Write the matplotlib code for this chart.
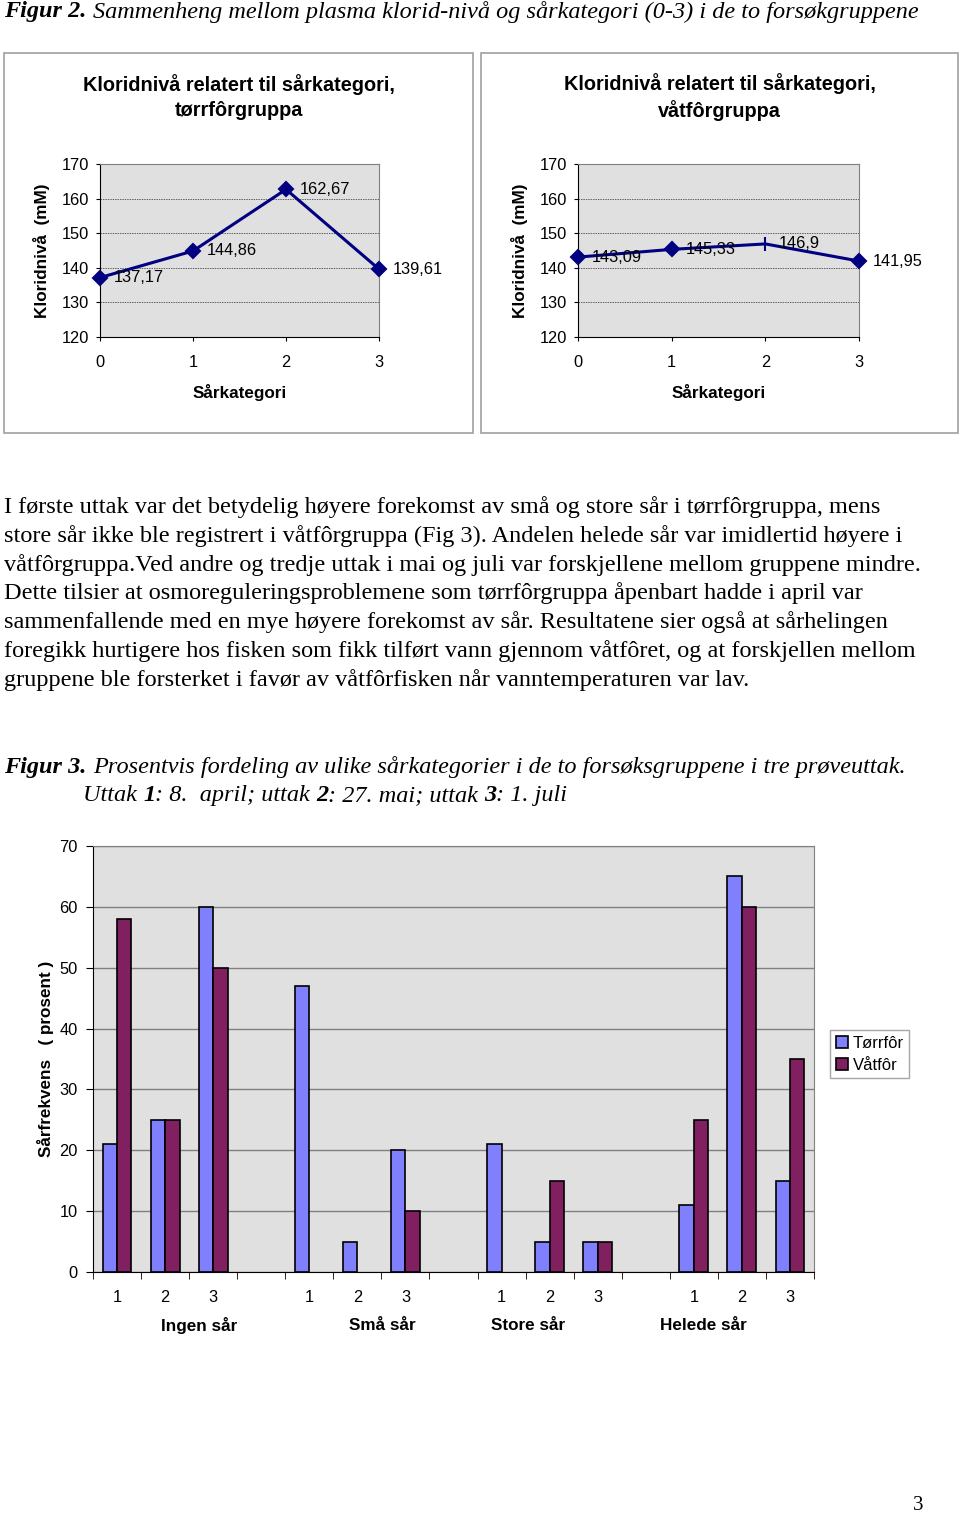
import matplotlib
matplotlib.use("Agg")
import matplotlib.pyplot as plt
from matplotlib.patches import Rectangle
import numpy as np

# --- data ---
kategori = [0, 1, 2, 3]
klorid_torr = [137.17, 144.86, 162.67, 139.61]
klorid_vat = [143.09, 145.33, 146.9, 141.95]

grupper = ["Ingen sår", "Små sår", "Store sår", "Helede sår"]
uttak = ["1", "2", "3"]
torrfor = [[21, 25, 60], [47, 5, 20], [21, 5, 5], [11, 65, 15]]
vatfor = [[58, 25, 50], [0, 0, 10], [0, 15, 5], [25, 60, 35]]

avsnitt = [
    "I første uttak var det betydelig høyere forekomst av små og store sår i tørrfôrgruppa, mens",
    "store sår ikke ble registrert i våtfôrgruppa (Fig 3). Andelen helede sår var imidlertid høyere i",
    "våtfôrgruppa.Ved andre og tredje uttak i mai og juli var forskjellene mellom gruppene mindre.",
    "Dette tilsier at osmoreguleringsproblemene som tørrfôrgruppa åpenbart hadde i april var",
    "sammenfallende med en mye høyere forekomst av sår. Resultatene sier også at sårhelingen",
    "foregikk hurtigere hos fisken som fikk tilført vann gjennom våtfôret, og at forskjellen mellom",
    "gruppene ble forsterket i favør av våtfôrfisken når vanntemperaturen var lav.",
]

W, H = 960, 1514
fig = plt.figure(figsize=(W / 100, H / 100), dpi=100)
plt.rcParams["font.family"] = ["Liberation Sans", "DejaVu Sans"]
SERIF = ["Liberation Serif", "DejaVu Serif"]


def fx(x):
    return x / W


def fy(y):
    return 1 - y / H


def px_axes(x0, y0, x1, y1):
    return fig.add_axes([fx(x0), fy(y1), (x1 - x0) / W, (y1 - y0) / H])


def ftext(x, y, s, **kw):
    return fig.text(fx(x), fy(y), s, **kw)


# --- Figur 2 caption ---
ftext(4, 12, "Figur 2.", family=SERIF, style="italic", weight="bold", fontsize=17.5, va="center")
ftext(93, 12, "Sammenheng mellom plasma klorid-nivå og sårkategori (0-3) i de to forsøkgruppene",
      family=SERIF, style="italic", fontsize=17.5, va="center")


def linjefigur(box, area, verdier, tittel, markers):
    bx0, by0, bx1, by1 = box
    fig.add_artist(Rectangle((fx(bx0), fy(by1)), (bx1 - bx0) / W, (by1 - by0) / H,
                             transform=fig.transFigure, fill=False, edgecolor="#a0a0a0", lw=1.2))
    cx = (bx0 + bx1) / 2
    ftext(cx, 97, tittel, ha="center", va="center", weight="bold", fontsize=14.3, linespacing=1.35)
    ax = px_axes(*area)
    ax.set_facecolor("#e0e0e0")
    ax.set_xlim(0, 3)
    ax.set_ylim(120, 170)
    ax.set_yticks([120, 130, 140, 150, 160, 170])
    ax.set_xticks(kategori)
    ax.grid(axis="y", color="#606060", ls=(0, (1.5, 1)), lw=0.7)
    ax.set_axisbelow(True)
    for s in ["top", "right"]:
        ax.spines[s].set_color("#808080")
    for s in ["left", "bottom"]:
        ax.spines[s].set_color("black")
    ax.tick_params(axis="y", length=3, pad=5, labelsize=11.8, direction="out")
    ax.tick_params(axis="x", length=3, pad=10, labelsize=11.8, direction="out")
    ax.plot(kategori, verdier, color="#000080", lw=2.2, clip_on=False, zorder=3)
    for x, v, m in zip(kategori, verdier, markers):
        ax.plot(x, v, marker=m, color="#000080", mew=1.5, clip_on=False, zorder=4,
                markersize=7 if m == "D" else 10)
        ax.annotate(f"{v:g}".replace(".", ","), (x, v), xytext=(10, 0),
                    textcoords="offset points", va="center", ha="left", fontsize=11.8)
    ax.set_xlabel("Sårkategori", weight="bold", fontsize=12.3, labelpad=10)
    ax.set_ylabel("Kloridnivå  (mM)", weight="bold", fontsize=12.3, labelpad=8)
    return ax


linjefigur((4, 53, 473, 433), (100, 164, 379, 337), klorid_torr,
           "Kloridnivå relatert til sårkategori,\ntørrfôrgruppa", ["D", "D", "D", "D"])
linjefigur((481, 53, 958, 433), (578, 164, 859, 337), klorid_vat,
           "Kloridnivå relatert til sårkategori,\nvåtfôrgruppa", ["D", "D", "|", "D"])

# --- paragraph ---
for i, linje in enumerate(avsnitt):
    ftext(4, 507 + i * 28.8, linje, family=SERIF, fontsize=17.5, va="center")

# --- Figur 3 caption ---
ftext(4, 767, "Figur 3.", family=SERIF, style="italic", weight="bold", fontsize=17.5, va="center")
ftext(93, 767, "Prosentvis fordeling av ulike sårkategorier i de to forsøksgruppene i tre prøveuttak.",
      family=SERIF, style="italic", fontsize=17.5, va="center")
cap2 = [("Uttak ", False), ("1", True), (": 8.  april; uttak ", False), ("2", True),
        (": 27. mai; uttak ", False), ("3", True), (": 1. juli", False)]
fig.canvas.draw()
r = fig.canvas.get_renderer()
xpos = 83
for s, b in cap2:
    t = ftext(xpos, 796, s, family=SERIF, style="italic",
              weight="bold" if b else "normal", fontsize=17.5, va="center")
    xpos += t.get_window_extent(r).width

# --- bar chart ---
ax = px_axes(93, 846, 814, 1272)
ax.set_facecolor("#e0e0e0")
ax.set_xlim(-0.5, 14.5)
ax.set_ylim(0, 70)
ax.set_yticks(range(0, 71, 10))
ax.grid(axis="y", color="#808080", lw=1)
ax.set_axisbelow(True)
for s in ["top", "right"]:
    ax.spines[s].set_color("#808080")
for s in ["left", "bottom"]:
    ax.spines[s].set_color("black")

pos, labels = [], []
for g in range(len(grupper)):
    for i, u in enumerate(uttak):
        pos.append(g * 4 + i)
        labels.append(u)
pos = np.array(pos)
tv = np.array(torrfor).ravel()
vv = np.array(vatfor).ravel()
bw = 0.3
m = tv > 0
ax.bar(pos[m] - bw / 2, tv[m], bw, color="#8080ff", edgecolor="black", lw=1.2, label="Tørrfôr")
m = vv > 0
ax.bar(pos[m] + bw / 2, vv[m], bw, color="#802060", edgecolor="black", lw=1.2, label="Våtfôr")

ax.set_xticks(pos)
ax.set_xticklabels(labels)
ax.set_xticks(np.arange(-0.5, 15, 1), minor=True)
ax.tick_params(axis="x", which="major", length=0, pad=13, labelsize=11.8)
ax.tick_params(axis="x", which="minor", length=5, direction="out")
ax.tick_params(axis="y", length=5, pad=6, labelsize=11.8)

gruppe_x = [1.71, 5.52, 8.56, 12.19]
for gx, navn in zip(gruppe_x, grupper):
    ax.text(gx, -8.8, navn, ha="center", va="center", weight="bold", fontsize=12.3)

ax.set_ylabel("Sårfrekvens   ( prosent )", weight="bold", fontsize=12.3, labelpad=4)

leg = ax.legend(loc="upper left", bbox_to_anchor=(fx(830), fy(1030)), bbox_transform=fig.transFigure,
                fancybox=False, edgecolor="#909090", fontsize=12, handlelength=0.75,
                handleheight=0.75, handletextpad=0.25, borderpad=0.35, labelspacing=0.4,
                borderaxespad=0)
leg.get_frame().set_linewidth(1)

ftext(918, 1505, "3", family=SERIF, fontsize=15, ha="center", va="center")

fig.savefig("out.png", dpi=100, facecolor="white")
